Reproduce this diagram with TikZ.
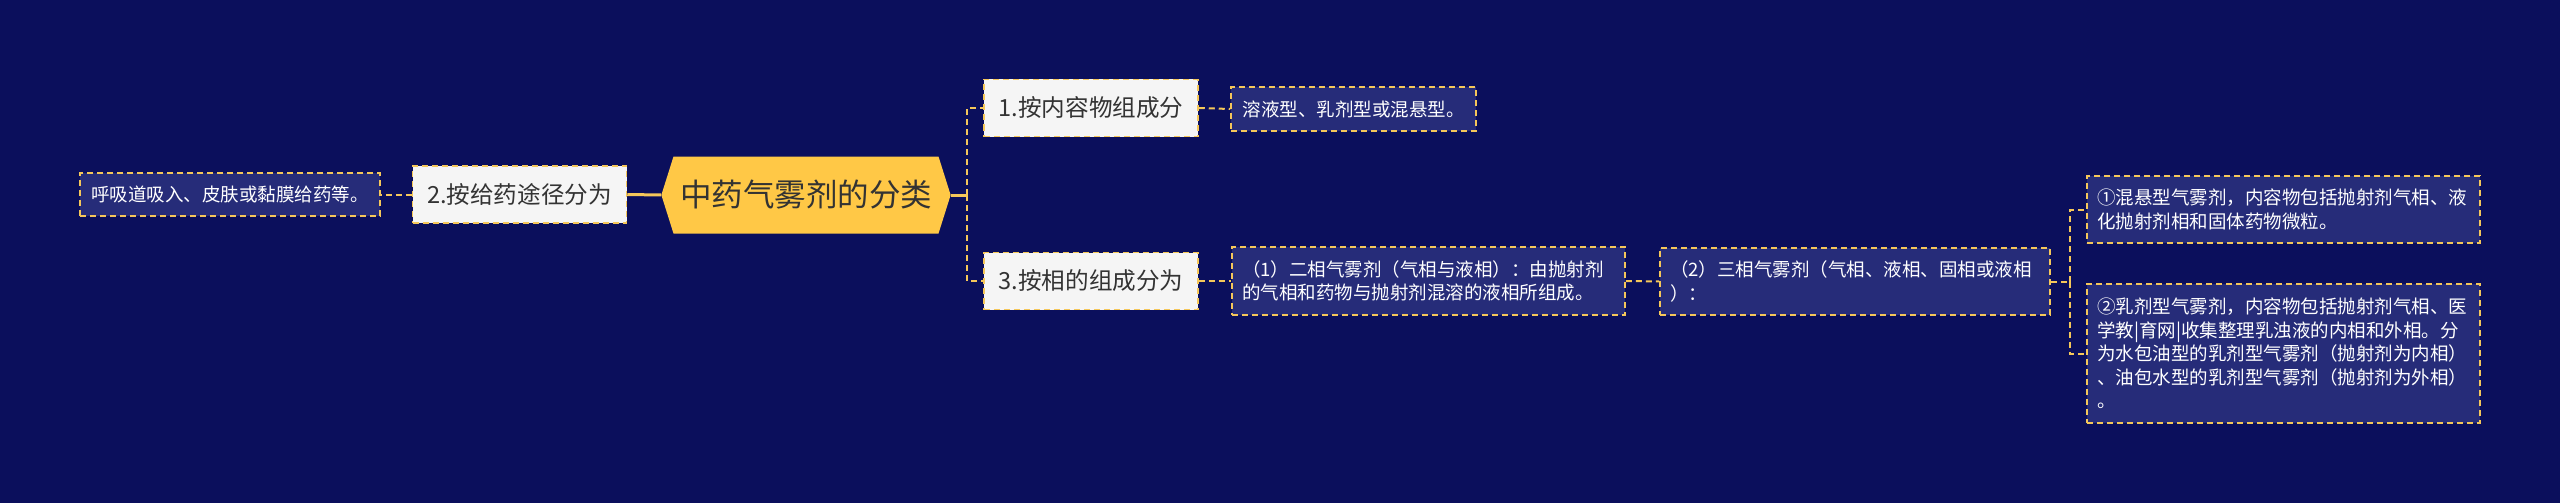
\documentclass[tikz,border=0pt]{standalone}
\usepackage{fontspec}
\setmainfont{Noto Sans CJK SC}
\usetikzlibrary{shapes.symbols}
\definecolor{bgnavy}{HTML}{0B0F5C}
\definecolor{leafnavy}{HTML}{262C79}
\definecolor{linegold}{HTML}{F5C75A}
\definecolor{rootgold}{HTML}{FFC846}
\definecolor{boxwhite}{HTML}{F5F5F5}
\definecolor{txtdark}{HTML}{333333}
\tikzset{
  link/.style={linegold,line width=2pt,dash pattern=on 6pt off 4pt},
  rootlink/.style={linegold,line width=3pt},
  rootbox/.style={shape=signal,signal to=east and west,signal pointer angle=145,
    fill=rootgold,text=txtdark,font=\fontsize{31.5}{36}\selectfont,
    minimum height=77pt,inner xsep=6.5pt,inner ysep=0pt},
  catbox/.style={draw=linegold,line width=1.5pt,dash pattern=on 6pt off 4pt,
    fill=boxwhite,text=txtdark,font=\fontsize{23.6}{28}\selectfont,
    minimum width=214pt,minimum height=57pt,inner sep=0pt},
  leafbox/.style={draw=linegold,line width=1.5pt,dash pattern=on 6pt off 4pt,
    fill=leafnavy,text=white,font=\fontsize{18.5}{23.5}\selectfont,
    align=left,inner xsep=10pt,inner ysep=0pt},
}
\begin{document}
\begin{tikzpicture}[x=1pt,y=-1pt]
  \useasboundingbox (0,0) rectangle (2560,503);
  \fill[bgnavy] (0,0) rectangle (2560,503);

  \node[rootbox] (root) at (806,195) {中药气雾剂的分类};
  \node[catbox] (b2) at (519.5,194.5) {2.按给药途径分为};
  \node[catbox] (b1) at (1091,108) {1.按内容物组成分};
  \node[catbox] (b3) at (1091,281) {3.按相的组成分为};

  \node[leafbox,minimum width=300pt,minimum height=43pt] (l0) at (230,194.5)
    {呼吸道吸入、皮肤或黏膜给药等。};
  \node[leafbox,minimum width=245pt,minimum height=44pt] (la) at (1353.5,109)
    {溶液型、乳剂型或混悬型。};
  \node[leafbox,text width=373pt,minimum height=68pt] (p1) at (1428.5,281)
    {（1）二相气雾剂（气相与液相）：由抛射剂\\的气相和药物与抛射剂混溶的液相所组成。};
  \node[leafbox,text width=370pt,minimum height=67pt] (p2) at (1855,281.5)
    {（2）三相气雾剂（气相、液相、固相或液相\\）：};
  \node[leafbox,text width=373pt,minimum height=67pt] (c1) at (2283.5,209.5)
    {①混悬型气雾剂，内容物包括抛射剂气相、液\\化抛射剂相和固体药物微粒。};
  \node[leafbox,text width=373pt,minimum height=139pt] (c2) at (2283.5,353.5)
    {②乳剂型气雾剂，内容物包括抛射剂气相、医\\学教|育网|收集整理乳浊液的内相和外相。分\\为水包油型的乳剂型气雾剂（抛射剂为内相）\\、油包水型的乳剂型气雾剂（抛射剂为外相）\\。};

  \coordinate (jr) at (967,195);
  \coordinate (jp) at (2070,281.5);

  \draw[rootlink] (root.west) -- (b2.east);
  \draw[link] (b2.west) -- (l0.east);
  \draw[rootlink] (root.east) -- (jr);
  \draw[link] (jr) |- (b1.west);
  \draw[link] (jr) |- (b3.west);
  \draw[link] (b1.east) -- (la.west);
  \draw[link] (b3.east) -- (p1.west);
  \draw[link] (p1.east) -- (p2.west);
  \draw[link] (p2.east) -- (jp);
  \draw[link] (jp) |- (c1.west);
  \draw[link] (jp) |- (c2.west);
\end{tikzpicture}
\end{document}
